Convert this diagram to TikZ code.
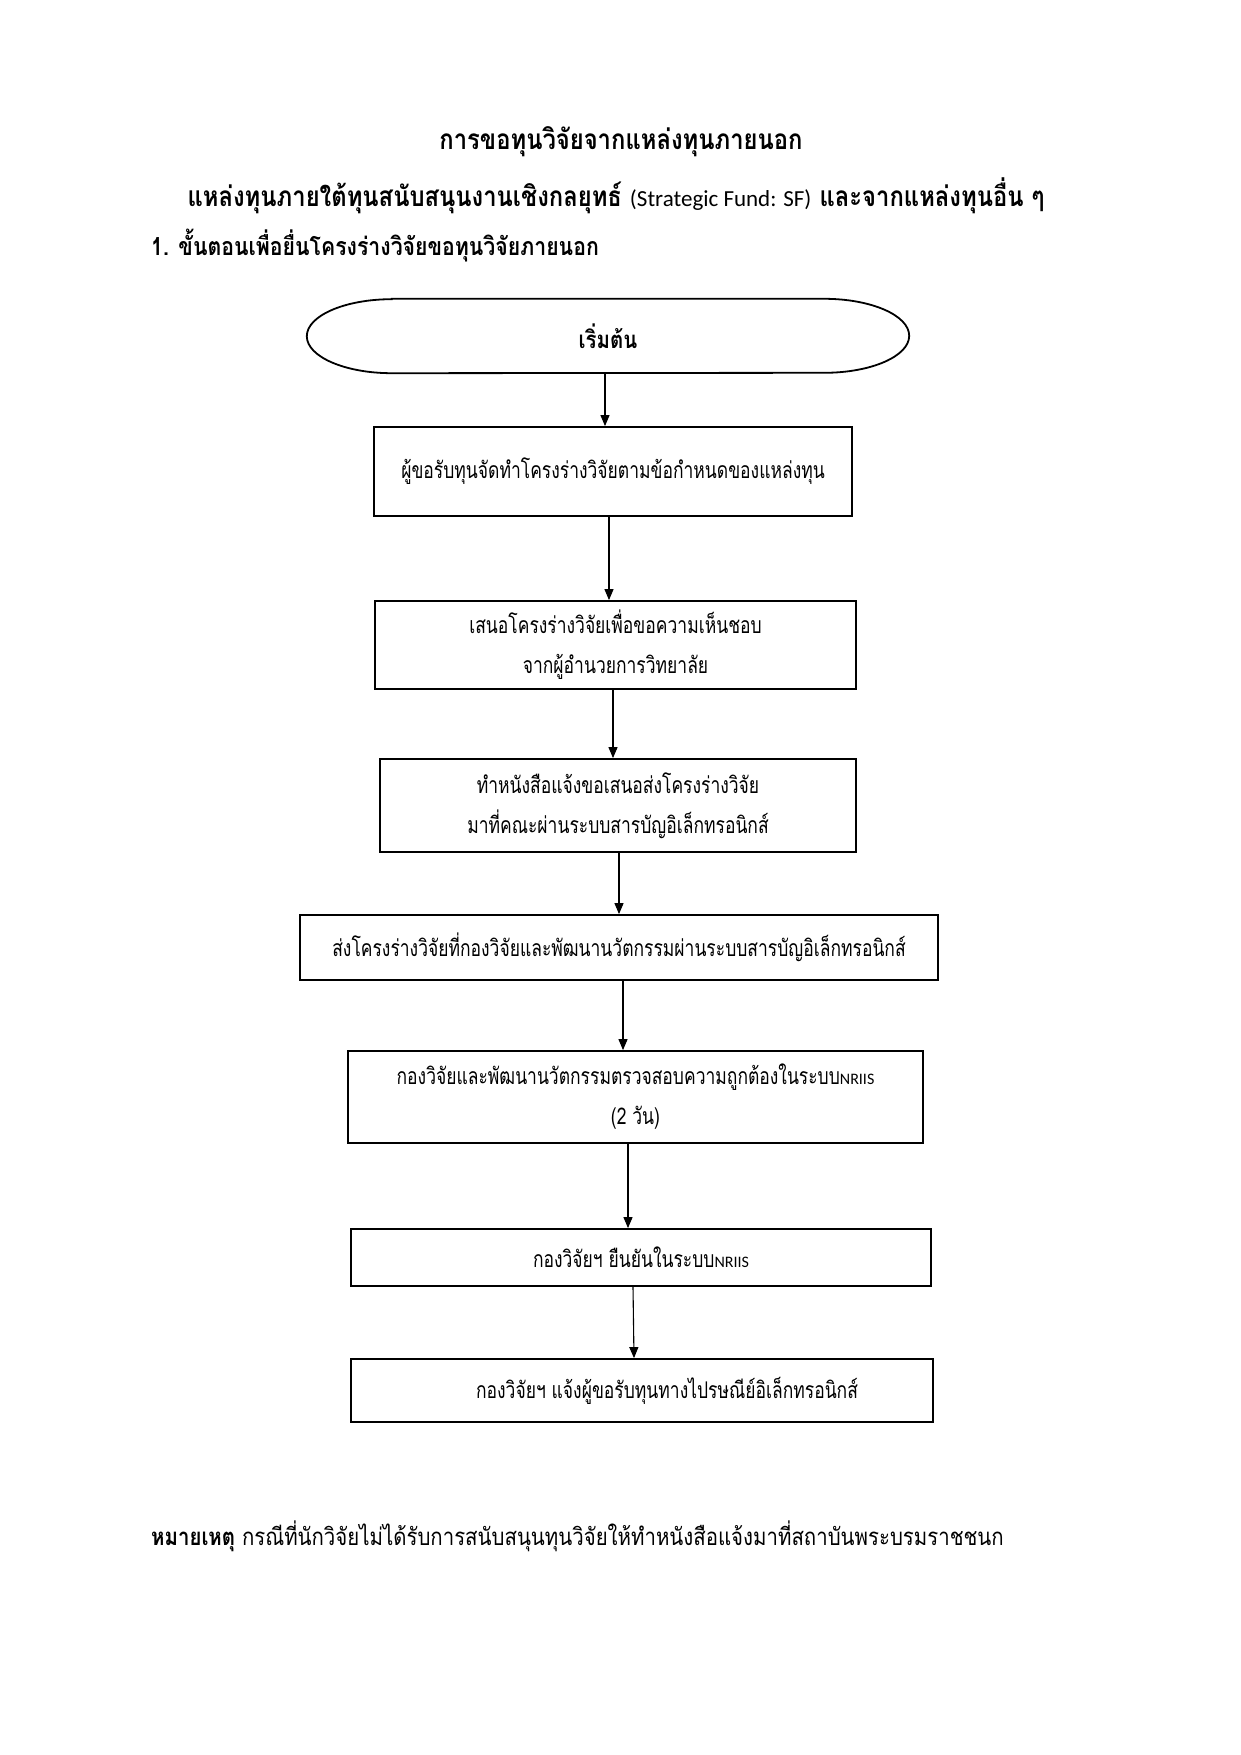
\documentclass[tikz,border=0pt]{standalone}
\usepackage{fontspec}
\setmainfont{Loma}[Script=Thai, FakeStretch=0.85]
\newfontfamily\bodyf{Loma}[Script=Thai, FakeStretch=0.76]
\newfontfamily\latinf{Carlito}
\usetikzlibrary{arrows.meta}
\begin{document}
\begin{tikzpicture}[x=1pt,y=-1pt,
  stepbox/.style={draw, line width=1.8pt, inner sep=0pt, align=center,
    font=\bodyf\fontsize{23}{40}\selectfont},
  arr/.style={-{Triangle[length=11pt,width=9pt]}, line width=1.1pt},
  titlef/.style={font=\fontsize{28}{34}\selectfont\bfseries}]
\useasboundingbox (0,0) rectangle (1241,1755);
\fill[white] (0,0) rectangle (1241,1755);

\node[titlef] (t1) at (621,142) {การขอทุนวิจัยจากแหล่งทุนภายนอก};
\node[titlef] (t2) at (616,196) {แหล่งทุนภายใต้ทุนสนับสนุนงานเชิงกลยุทธ์ {\latinf\mdseries\fontsize{23}{26}\selectfont(Strategic Fund: SF)} และจากแหล่งทุนอื่น ๆ};
\node[titlef, font=\fontsize{25}{30}\selectfont\bfseries, anchor=west, inner sep=0pt] (t3) at (151,246) {1. ขั้นตอนเพื่อยื่นโครงร่างวิจัยขอทุนวิจัยภายนอก};

% start terminal
\node[minimum width=602pt, minimum height=74pt, inner sep=0pt,
  font=\fontsize{24}{30}\selectfont\bfseries] (s) at (608,336) {เริ่มต้น};
\draw[line width=1.8pt] ([xshift=85pt]s.north west) -- ([xshift=-85pt]s.north east)
  arc[start angle=90, end angle=-90, x radius=85pt, y radius=37pt]
  -- ([xshift=85pt]s.south west)
  arc[start angle=270, end angle=90, x radius=85pt, y radius=37pt] -- cycle;

\node[stepbox, minimum width=478pt, minimum height=89pt] (b1) at (613,471.5)
  {ผู้ขอรับทุนจัดทำโครงร่างวิจัยตามข้อกำหนดของแหล่งทุน};
\node[stepbox, minimum width=481pt, minimum height=88pt] (b2) at (615.5,645)
  {เสนอโครงร่างวิจัยเพื่อขอความเห็นชอบ\\จากผู้อำนวยการวิทยาลัย};
\node[stepbox, minimum width=476pt, minimum height=93pt] (b3) at (618,805.5)
  {ทำหนังสือแจ้งขอเสนอส่งโครงร่างวิจัย\\มาที่คณะผ่านระบบสารบัญอิเล็กทรอนิกส์};
\node[stepbox, minimum width=638pt, minimum height=65pt] (b4) at (619,947.5)
  {ส่งโครงร่างวิจัยที่กองวิจัยและพัฒนานวัตกรรมผ่านระบบสารบัญอิเล็กทรอนิกส์};
\node[stepbox, minimum width=575pt, minimum height=92pt] (b5) at (635.5,1097)
  {กองวิจัยและพัฒนานวัตกรรมตรวจสอบความถูกต้องในระบบ{\latinf\fontsize{16}{20}\selectfont NRIIS}\\(2 วัน)};
\node[stepbox, minimum width=580pt, minimum height=57pt] (b6) at (641,1257.5)
  {กองวิจัยฯ ยืนยันในระบบ{\latinf\fontsize{16}{20}\selectfont NRIIS}};
\node[stepbox, minimum width=582pt, minimum height=63pt] (b7) at (642,1390.5)
  {\hspace*{50pt}กองวิจัยฯ แจ้งผู้ขอรับทุนทางไปรษณีย์อิเล็กทรอนิกส์};

\draw[arr] (s.south -| 605,0) -- (b1.north -| 605,0);
\draw[arr] (b1.south -| 609,0) -- (b2.north -| 609,0);
\draw[arr] (b2.south -| 613,0) -- (b3.north -| 613,0);
\draw[arr] (b3.south -| 619,0) -- (b4.north -| 619,0);
\draw[arr] (b4.south -| 623,0) -- (b5.north -| 623,0);
\draw[arr] (b5.south -| 628,0) -- (b6.north -| 628,0);
\draw[arr] (b6.south -| 633,0) -- (b7.north -| 634,0);

\node[anchor=west, inner sep=0pt, font=\fontsize{24}{30}\selectfont] (note) at (151,1536)
  {\textbf{หมายเหตุ} กรณีที่นักวิจัยไม่ได้รับการสนับสนุนทุนวิจัยให้ทำหนังสือแจ้งมาที่สถาบันพระบรมราชชนก};
\end{tikzpicture}
\end{document}
